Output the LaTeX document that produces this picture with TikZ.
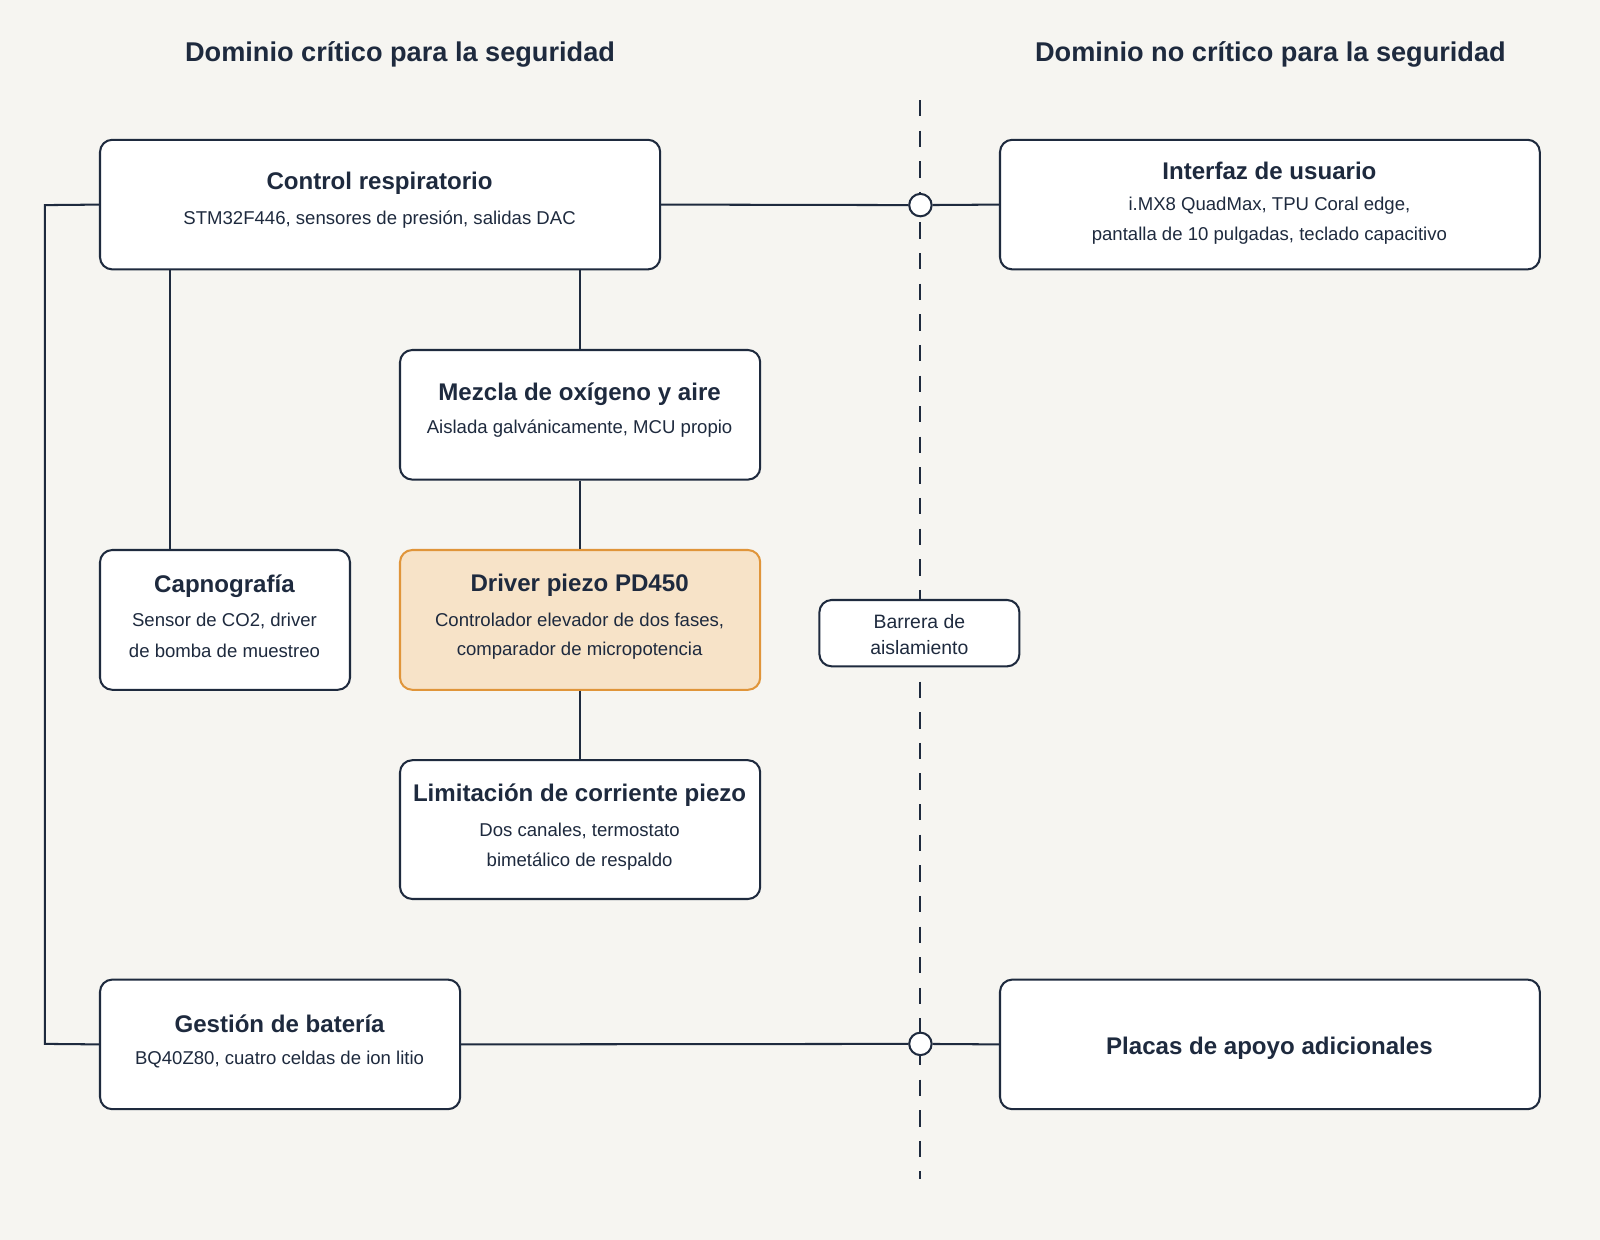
\documentclass[tikz,border=0pt]{standalone}
\usepackage{fontspec}
\setmainfont{Liberation Sans}
\begin{document}
\definecolor{ink}{HTML}{1E2A3E}
\definecolor{bg}{HTML}{F6F5F1}
\definecolor{hl}{HTML}{F7E3C8}
\definecolor{hlb}{HTML}{E0953A}
\begin{tikzpicture}[x=0.5pt,y=-0.5pt,
  box/.style={draw=ink,line width=1pt,rounded corners=6pt,fill=white,inner sep=0pt},
  ttl/.style={font=\bfseries\fontsize{11.8}{13}\selectfont,text=ink},
  sub/.style={font=\fontsize{9.1}{10}\selectfont,text=ink},
  head/.style={font=\bfseries\fontsize{13.3}{15}\selectfont,text=ink},
  ln/.style={draw=ink,line width=1pt},
  port/.style={circle,draw=ink,line width=1pt,fill=white,minimum size=11pt,inner sep=0pt}]
\fill[bg] (0,0) rectangle (1568,1215);
\useasboundingbox (0,0) rectangle (1568,1215);
\node[head] (h1) at (392,53) {Dominio crítico para la seguridad};
\node[head] (h2) at (1245,53) {Dominio no crítico para la seguridad};
\coordinate (dt) at (902,98); \coordinate (db) at (902,1155);
\draw[ln,dash pattern=on 8pt off 7pt] (dt) -- (db);
% boxes
\node[box,minimum width=274.5pt,minimum height=63.5pt] (ctl) at (372.5,200.5) {};
\node[box,minimum width=264.5pt,minimum height=63.5pt] (ui) at (1244.5,200.5) {};
\node[box,minimum width=176.5pt,minimum height=63.5pt] (mez) at (568.5,406.5) {};
\node[box,minimum width=122.5pt,minimum height=68.5pt] (cap) at (220.5,607.5) {};
\node[box,draw=hlb,fill=hl,minimum width=176.5pt,minimum height=68.5pt] (drv) at (568.5,607.5) {};
\node[box,minimum width=98pt,minimum height=32.5pt] (bar) at (901,620.5) {};
\node[box,minimum width=176.5pt,minimum height=68pt] (lim) at (568.5,813) {};
\node[box,minimum width=176.5pt,minimum height=63.5pt] (bat) at (274.5,1023.5) {};
\node[box,minimum width=264.5pt,minimum height=63.5pt] (pl) at (1244.5,1023.5) {};
% texts
\node[ttl] (t1) at (372,180) {Control respiratorio};
\node[sub] (s1) at (372,215) {STM32F446, sensores de presión, salidas DAC};
\node[ttl] (t2) at (1244,167) {Interfaz de usuario};
\node[sub] (s2a) at (1244,202) {i.MX8 QuadMax, TPU Coral edge,};
\node[sub] (s2b) at (1244,231) {pantalla de 10 pulgadas, teclado capacitivo};
\node[ttl] (t3) at (568,386) {Mezcla de oxígeno y aire};
\node[sub] (s3) at (568,420) {Aislada galvánicamente, MCU propio};
\node[ttl] (t4) at (220,574) {Capnografía};
\node[sub] (s4a) at (220,609) {Sensor de CO2, driver};
\node[sub] (s4b) at (220,638) {de bomba de muestreo};
\node[ttl] (t5) at (568,574) {Driver piezo PD450};
\node[sub] (s5a) at (568,609) {Controlador elevador de dos fases,};
\node[sub] (s5b) at (568,638) {comparador de micropotencia};
\node[sub,font=\fontsize{9.5}{10}\selectfont] (s6a) at (901,609) {Barrera de};
\node[sub,font=\fontsize{9.5}{10}\selectfont] (s6b) at (901,635) {aislamiento};
\node[ttl] (t7) at (568,779) {Limitación de corriente piezo};
\node[sub] (s7a) at (568,814) {Dos canales, termostato};
\node[sub] (s7b) at (568,844) {bimetálico de respaldo};
\node[ttl] (t8) at (274,1003) {Gestión de batería};
\node[sub] (s8) at (274,1038) {BQ40Z80, cuatro celdas de ion litio};
\node[ttl] (t9) at (1244,1027) {Placas de apoyo adicionales};
% connectors
\node[port] (p1) at (902,201) {};
\node[port] (p2) at (902,1023) {};
\draw[ln] (ctl.east) -- (p1) -- (ui.west);
\draw[ln] (bat.east) -- (p2) -- (pl.west);
\draw[ln] (ctl.south -| cap.north) ++(-54,0) -- ++(0,275);
\draw[ln] (ctl.south) ++(196,0) -- (mez.north);
\draw[ln] (mez) -- (drv);
\draw[ln] (drv) -- (lim);
\coordinate (bl1) at (44,201); \coordinate (bl2) at (44,1023);
\draw[ln] (ctl.west) -- (bl1) -- (bl2) -- (bat.west);
\end{tikzpicture}
\end{document}
